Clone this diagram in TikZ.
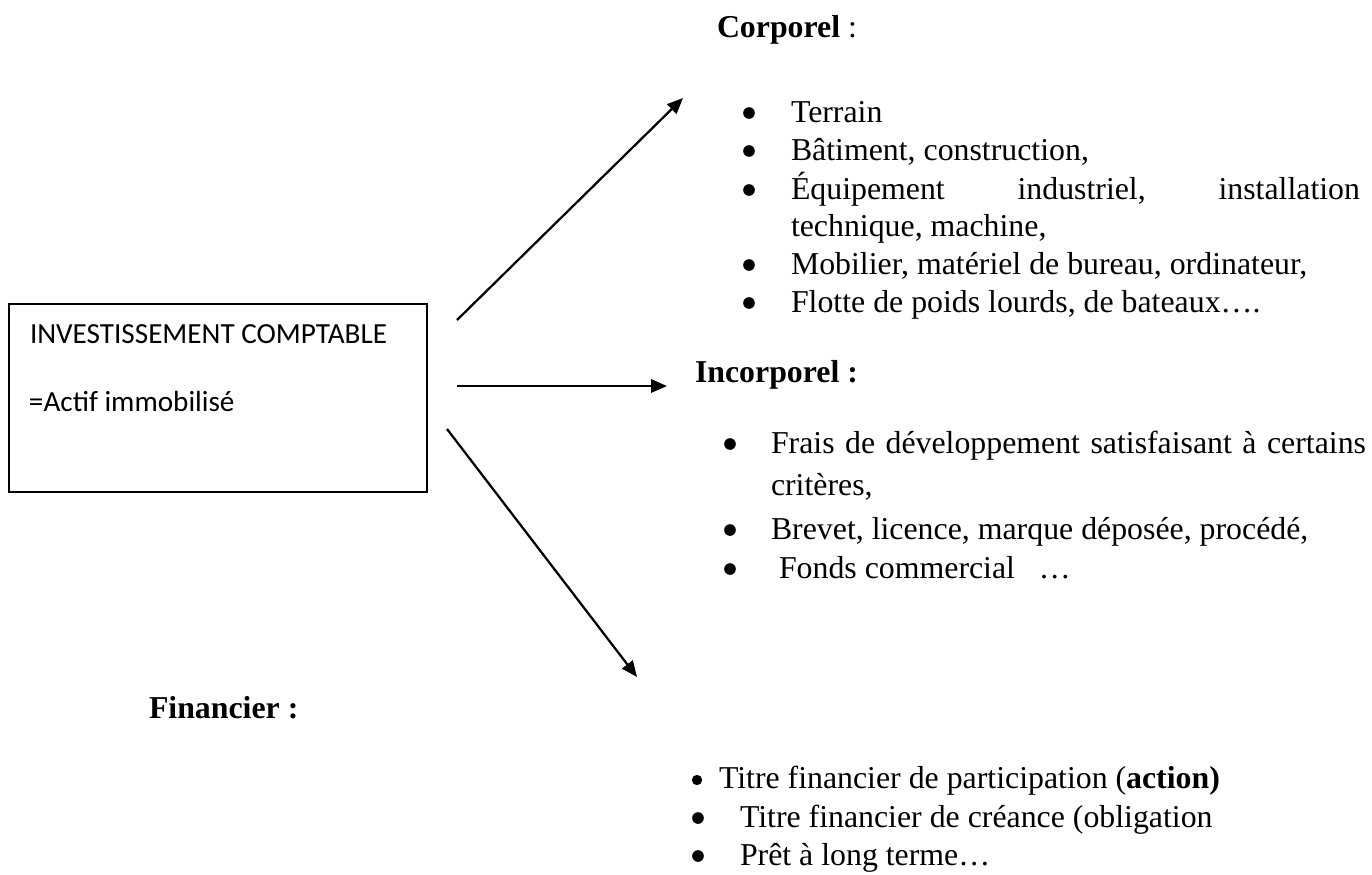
\documentclass[tikz,border=0pt]{standalone}
\usepackage{fontspec}
\setmainfont{Liberation Serif}
\newfontfamily\calfont{Carlito}
\usetikzlibrary{arrows.meta}
\begin{document}
\begin{tikzpicture}[x=0.377pt,y=-0.377pt,
  txt/.style={anchor=base west, inner sep=0pt, outer sep=0pt, font=\fontsize{12}{14}\selectfont},
  head/.style={txt, font=\fontsize{12}{14}\selectfont\bfseries},
  boxtxt/.style={anchor=base west, inner sep=0pt, outer sep=0pt, font=\calfont\fontsize{11}{13}\selectfont},
  blt/.style={circle, fill=black, inner sep=0pt, minimum size=4.4pt},
  bltsmall/.style={blt, minimum size=3.9pt},
  link/.style={line width=0.85pt, -{Triangle[length=6pt,width=5pt]}},
  frame/.style={draw, line width=0.75pt, minimum width=157.6pt, minimum height=70.9pt, inner sep=0pt}
]
\useasboundingbox (0,0) rectangle (1372,874);

% main box
\node[frame] (inv) at (218,398) {};
\node[boxtxt] (invt) at (30,343) {INVESTISSEMENT COMPTABLE};
\node[boxtxt] (invs) at (29,411) {=Actif immobilisé};

% arrow end points
\coordinate (a1s) at (457,320);
\coordinate (a1e) at (683,98);
\coordinate (a2s) at (457,386);
\coordinate (a2e) at (667,386);
\coordinate (a3s) at (447,429);
\coordinate (a3e) at (637,677);
\draw[link] (a1s) -- (a1e);
\draw[link] (a2s) -- (a2e);
\draw[link] (a3s) -- (a3e);

% Corporel
\node[txt] (corp) at (717,37) {\textbf{Corporel} :};
\node[blt] (cb1) at (749,113) {};
\node[txt] (c1) at (791,122) {Terrain};
\node[blt] (cb2) at (749,151) {};
\node[txt] (c2) at (791,160) {Bâtiment, construction,};
\node[blt] (cb3) at (749,190) {};
\node[txt] (c3) at (791,199) {\hbox to 214.5pt{Équipement\hfill industriel,\hfill installation}};
\node[txt] (c3b) at (791,236) {technique, machine,};
\node[blt] (cb4) at (749,265) {};
\node[txt] (c4) at (791,274) {Mobilier, matériel de bureau, ordinateur,};
\node[blt] (cb5) at (749,303) {};
\node[txt] (c5) at (791,312) {Flotte de poids lourds, de bateaux….};

% Incorporel
\node[head] (incorp) at (695,382) {Incorporel :};
\node[blt] (ib1) at (730,444) {};
\node[txt] (i1) at (771,453) {\makebox[224.3pt][s]{Frais de développement satisfaisant à certains}};
\node[txt] (i1b) at (771,495) {critères,};
\node[blt] (ib2) at (730,530) {};
\node[txt] (i2) at (771,539) {Brevet, licence, marque déposée, procédé,};
\node[blt] (ib3) at (730,569) {};
\node[txt] (i3) at (779,578) {Fonds commercial~~~…};

% Financier
\node[head] (fin) at (149,718) {Financier :};
\node[bltsmall] (fb1) at (697,780) {};
\node[txt] (f1) at (719,788) {Titre financier de participation (\textbf{action)}};
\node[blt] (fb2) at (698,818) {};
\node[txt] (f2) at (740,827) {Titre financier de créance (obligation};
\node[blt] (fb3) at (698,856) {};
\node[txt] (f3) at (740,865) {Prêt à long terme…};
\end{tikzpicture}
\end{document}
